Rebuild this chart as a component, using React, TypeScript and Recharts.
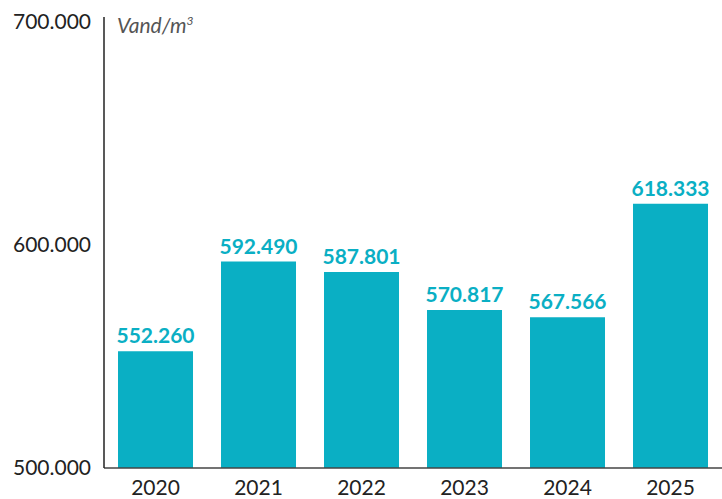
import { BarChart, Bar, XAxis, YAxis, LabelList } from "recharts"

const years = ["2020", "2021", "2022", "2023", "2024", "2025"]
const water = [552260, 592490, 587801, 570817, 567566, 618333]
const yTicks = [500000, 600000, 700000]

const fmt = (v: number) => String(Math.round(v)).replace(/\B(?=(\d{3})+(?!\d))/g, ".")

export default function App() {
  const data = years.map((year, i) => ({ year, value: water[i] }))
  const font = "Lato, 'Open Sans', sans-serif"

  return (
    <div style={{ position: "absolute", left: 0, top: 0, width: 722, height: 499, fontFamily: font }}>
      <BarChart
        width={722}
        height={499}
        data={data}
        margin={{ top: 17, right: 0, bottom: 0, left: 0 }}
        barCategoryGap="13.6%"
      >
        <XAxis
          dataKey="year"
          height={31}
          tickLine={false}
          axisLine={{ stroke: "#444", strokeWidth: 1.5 }}
          tick={{ fontSize: 21, fill: "#222", fontFamily: font }}
          tickMargin={6}
        />
        <YAxis
          width={104}
          domain={[500000, 702000]}
          ticks={yTicks}
          allowDataOverflow
          tickLine={false}
          axisLine={{ stroke: "#222", strokeWidth: 1.5 }}
          tick={{ fontSize: 21, fill: "#222", fontFamily: font }}
          tickMargin={7}
          tickFormatter={fmt}
        />
        <Bar dataKey="value" fill="#0AAFC4" isAnimationActive={false}>
          <LabelList
            dataKey="value"
            position="top"
            offset={8}
            formatter={(v: any) => fmt(Number(v))}
            style={{ fill: "#0AAFC4", fontWeight: 700, fontSize: 21, fontFamily: font }}
          />
        </Bar>
      </BarChart>
      <div
        style={{
          position: "absolute",
          left: 117,
          top: 8,
          fontSize: 21,
          fontStyle: "italic",
          color: "#555",
          lineHeight: "26px",
        }}
      >
        Vand/m<sup style={{ fontSize: 12 }}>3</sup>
      </div>
    </div>
  )
}
